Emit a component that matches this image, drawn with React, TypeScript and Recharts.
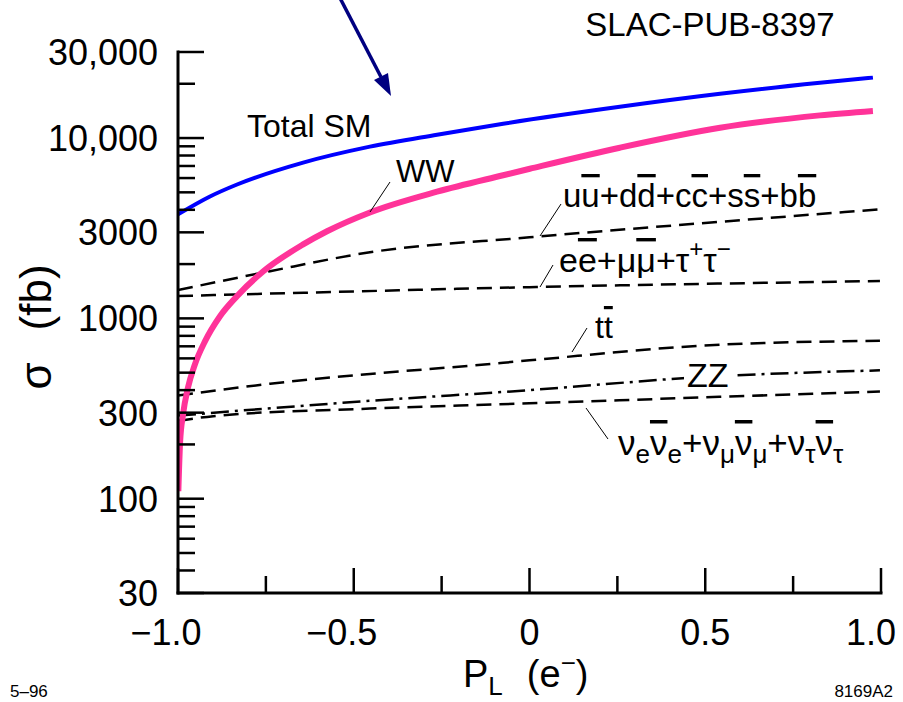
import { LineChart, Line, XAxis, YAxis } from "recharts"

const FONT = "'Liberation Sans', Arial, Helvetica, sans-serif"

// polarization axis ticks and cross-section ticks (fb)
const X_TICKS = [-1, -0.75, -0.5, -0.25, 0, 0.25, 0.5, 0.75, 1]
const X_LABELED = [-1, -0.5, 0, 0.5, 1]
const Y_TICKS = [
  30, 40, 50, 60, 70, 80, 90, 100, 200, 300, 400, 500, 600, 700, 800, 900, 1000,
  2000, 3000, 4000, 5000, 6000, 7000, 8000, 9000, 10000, 20000, 30000,
]
const Y_LABELED = [30, 100, 300, 1000, 3000, 10000, 30000]

// Total SM
const TOT_P = [-1, -0.909, -0.832, -0.644, -0.454, -0.263, -0.075, 0.257, 0.542, 0.826, 0.977]
const TOT_V = [3772, 4742, 5525, 7307, 8958, 10438, 12004, 14903, 17585, 20229, 21630]

// WW
const WW_P = [-0.999, -0.994, -0.986, -0.972, -0.952, -0.923, -0.881, -0.832, -0.758, -0.644, -0.576, -0.454, -0.263, -0.075, 0.001, 0.257, 0.542, 0.826, 0.977]
const WW_V = [110, 206, 291, 410, 555, 748, 1025, 1329, 1819, 2571, 3042, 3868, 5041, 6219, 6754, 8836, 11394, 13357, 14144]

// u ubar + d dbar + ...
const QQ_P = [-1, -0.738, -0.454, 0, 0.485, 0.997]
const QQ_V = [1435, 1827, 2326, 2814, 3364, 4020]

// e ebar + mu mubar + tau tau
const LL_P = [-1, -0.5, 0, 0.5, 0.997]
const LL_V = [1330, 1410, 1490, 1555, 1610]

// t tbar
const TT_P = [-1, -0.738, -0.454, -0.17, 0, 0.485, 0.997]
const TT_V = [373, 434, 492, 546, 585, 705, 752]

// ZZ
const ZZ_P = [-1, -0.454, 0, 0.485, 0.997]
const ZZ_V = [289, 349, 400, 472, 515]

// nu nubar
const NN_P = [-1, -0.9, -0.454, 0, 0.485, 0.997]
const NN_V = [270, 287, 316, 338, 364, 393]

const zip = (ps: number[], vs: number[]) => ps.map((p, i) => ({ p, v: vs[i] }))

const fmtY = (v: number) => (v >= 10000 ? v.toLocaleString("en-US") : String(v))
const fmtX = (v: number) => {
  if (v === 0) return "0"
  const s = Math.abs(v).toFixed(1)
  return v < 0 ? "\u2212" + s : s
}

function BottomTick(props: any) {
  const { x, y, payload } = props
  const v = payload.value
  const major = X_LABELED.includes(v)
  const shift = v < 0 ? -12 : v === 1 ? -10 : 0
  return (
    <g>
      <line x1={x} x2={x} y1={y} y2={y - (major ? 25 : 17)} stroke="#000" strokeWidth={2.5} />
      {major && (
        <text x={x + shift} y={y + 52} textAnchor="middle" fontSize={36} fontFamily={FONT} fill="#000">
          {fmtX(v)}
        </text>
      )}
    </g>
  )
}

function TopTick(props: any) {
  const { x, y, payload } = props
  const major = X_LABELED.includes(payload.value)
  return <line x1={x} x2={x} y1={y} y2={y + (major ? 23 : 14)} stroke="#000" strokeWidth={2.5} />
}

function LeftTick(props: any) {
  const { x, y, payload } = props
  const major = Y_LABELED.includes(payload.value)
  return (
    <g>
      <line x1={x} x2={x + (major ? 26 : 17)} y1={y} y2={y} stroke="#000" strokeWidth={2.5} />
      {major && (
        <text x={x - 20} y={y + 13} textAnchor="end" fontSize={36} fontFamily={FONT} fill="#000">
          {fmtY(payload.value)}
        </text>
      )}
    </g>
  )
}

function RightTick(props: any) {
  const { x, y, payload } = props
  const major = Y_LABELED.includes(payload.value)
  return <line x1={x} x2={x - (major ? 23 : 15)} y1={y} y2={y} stroke="#000" strokeWidth={2.5} />
}

const axisLine = { stroke: "#000", strokeWidth: 3, strokeLinecap: "square" as const }
const ob = { textDecoration: "overline" }

function Overlay() {
  const t = { fontFamily: FONT, fill: "#000" }
  return (
    <svg width={903} height={702} style={{ position: "absolute", left: 0, top: 0, pointerEvents: "none" }}>
      {/* arrow */}
      <line x1={340} y1={-2} x2={381} y2={77} stroke="#000080" strokeWidth={3.5} />
      <polygon points="391,96 374,80 388,73" fill="#000080" />
      <text x={710} y={36} textAnchor="middle" fontSize={33} {...t}>SLAC-PUB-8397</text>

      <text x={247} y={137} fontSize={32} {...t}>Total SM</text>

      <text x={396} y={182} fontSize={31} {...t}>WW</text>
      <line x1={390} y1={182} x2={370} y2={212} stroke="#000" strokeWidth={1} />

      <text x={563} y={207} fontSize={33} {...t}>
        u<tspan style={ob}>u</tspan>+d<tspan style={ob}>d</tspan>+c<tspan style={ob}>c</tspan>+s<tspan style={ob}>s</tspan>+b<tspan style={ob}>b</tspan>
      </text>
      <line x1={561} y1={204} x2={540} y2={236} stroke="#000" strokeWidth={1} />

      <text x={559} y={272} fontSize={34} {...t}>
        e<tspan style={ob}>e</tspan>+μ<tspan style={ob}>μ</tspan>+τ<tspan fontSize={24} dy={-15}>+</tspan>
        <tspan dy={15}>τ</tspan><tspan fontSize={24} dy={-15}>{"\u2212"}</tspan>
      </text>
      <line x1={553} y1={265} x2={540} y2={287} stroke="#000" strokeWidth={1} />

      <text x={595} y={338} fontSize={32} {...t}>
        t<tspan style={ob}>t</tspan>
      </text>
      <line x1={587} y1={328} x2={572} y2={352} stroke="#000" strokeWidth={1} />

      <rect x={684} y={364} width={50} height={27} fill="#fff" />
      <text x={687} y={387} fontSize={34} {...t}>ZZ</text>

      <text x={618} y={455} fontSize={35} {...t}>
        ν<tspan fontSize={26} dy={8}>e</tspan>
        <tspan dy={-8} style={ob}>ν</tspan><tspan fontSize={26} dy={8}>e</tspan>
        <tspan dy={-8}>+ν</tspan><tspan fontSize={26} dy={8}>μ</tspan>
        <tspan dy={-8} style={ob}>ν</tspan><tspan fontSize={26} dy={8}>μ</tspan>
        <tspan dy={-8}>+ν</tspan><tspan fontSize={26} dy={8}>τ</tspan>
        <tspan dy={-8} style={ob}>ν</tspan><tspan fontSize={26} dy={8}>τ</tspan>
      </text>
      <line x1={608} y1={439} x2={586} y2={408} stroke="#000" strokeWidth={1} />

      {/* axis titles */}
      <text transform="translate(51,327) rotate(-90)" textAnchor="middle" fontSize={44} {...t}>
        σ<tspan dx={32}>(fb)</tspan>
      </text>
      <text x={463} y={687} fontSize={38} {...t}>
        P<tspan fontSize={26} dy={8}>L</tspan>
        <tspan dy={-8} dx={24}>(e</tspan><tspan fontSize={26} dy={-15}>{"\u2212"}</tspan>
        <tspan dy={15}>)</tspan>
      </text>
      <text x={10} y={697} fontSize={17} {...t}>5–96</text>
      <text x={893} y={697} textAnchor="end" fontSize={17} {...t}>8169A2</text>
    </svg>
  )
}

export default function App() {
  return (
    <div style={{ position: "absolute", left: 0, top: 0, width: 903, height: 702, background: "#fff" }}>
      <LineChart width={903} height={702} margin={{ top: 52, right: 22, bottom: 0, left: 0 }}>
        <XAxis xAxisId="b" dataKey="p" type="number" domain={[-1, 1]} allowDataOverflow ticks={X_TICKS} interval={0}
          orientation="bottom" height={109} tickSize={0} tickMargin={0} tickLine={false} axisLine={axisLine} tick={(p: any) => <BottomTick {...p} />} />
        <XAxis xAxisId="t" dataKey="p" type="number" domain={[-1, 1]} allowDataOverflow ticks={X_TICKS} interval={0}
          orientation="top" height={0} tickSize={0} tickMargin={0} tickLine={false} axisLine={axisLine} tick={(p: any) => <TopTick {...p} />} />
        <YAxis yAxisId="l" type="number" scale="log" domain={[30, 30000]} allowDataOverflow ticks={Y_TICKS} interval={0}
          width={178} tickSize={0} tickMargin={0} tickLine={false} axisLine={axisLine} tick={(p: any) => <LeftTick {...p} />} />
        <YAxis yAxisId="r" orientation="right" type="number" scale="log" domain={[30, 30000]} allowDataOverflow ticks={Y_TICKS} interval={0}
          width={0} tickSize={0} tickMargin={0} tickLine={false} axisLine={axisLine} tick={(p: any) => <RightTick {...p} />} />

        <Line xAxisId="b" yAxisId="l" data={zip(QQ_P, QQ_V)} dataKey="v" type="monotone" stroke="#000" strokeWidth={2.5} strokeDasharray="15 8" dot={false} isAnimationActive={false} />
        <Line xAxisId="b" yAxisId="l" data={zip(LL_P, LL_V)} dataKey="v" type="monotone" stroke="#000" strokeWidth={2.5} strokeDasharray="15 8" dot={false} isAnimationActive={false} />
        <Line xAxisId="b" yAxisId="l" data={zip(TT_P, TT_V)} dataKey="v" type="monotone" stroke="#000" strokeWidth={2.5} strokeDasharray="15 8" dot={false} isAnimationActive={false} />
        <Line xAxisId="b" yAxisId="l" data={zip(ZZ_P, ZZ_V)} dataKey="v" type="monotone" stroke="#000" strokeWidth={2.5} strokeDasharray="18 6 3 6" dot={false} isAnimationActive={false} />
        <Line xAxisId="b" yAxisId="l" data={zip(NN_P, NN_V)} dataKey="v" type="monotone" stroke="#000" strokeWidth={2.5} strokeDasharray="15 8" dot={false} isAnimationActive={false} />
        <Line xAxisId="b" yAxisId="l" data={zip(TOT_P, TOT_V)} dataKey="v" type="monotone" stroke="#0000ff" strokeWidth={4} dot={false} isAnimationActive={false} />
        <Line xAxisId="b" yAxisId="l" data={zip(WW_P, WW_V)} dataKey="v" type="monotone" stroke="#ff3399" strokeWidth={6} dot={false} isAnimationActive={false} />
      </LineChart>
      <Overlay />
    </div>
  )
}
